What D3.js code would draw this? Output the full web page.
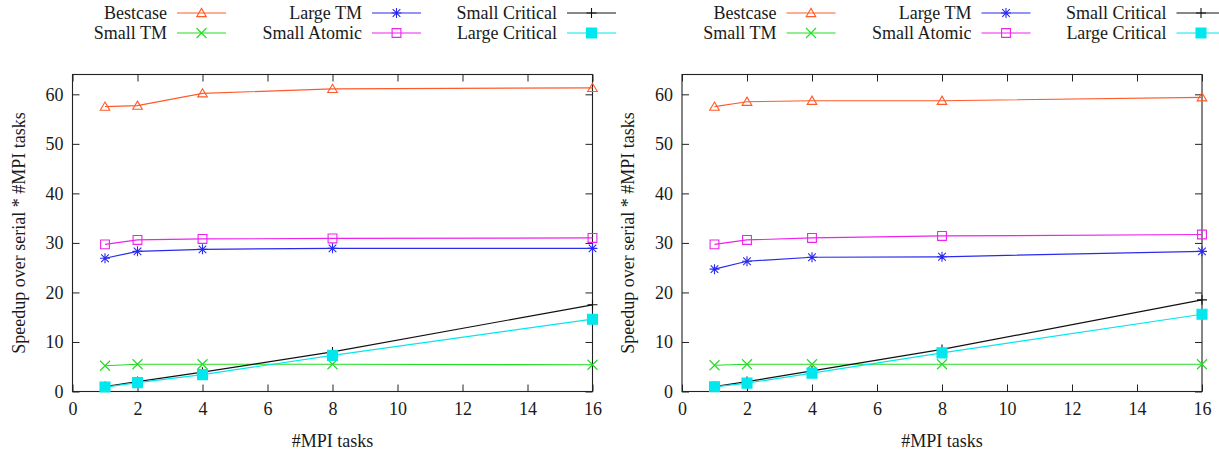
<!DOCTYPE html>
<html>
<head>
<meta charset="utf-8">
<script src="https://cdn.jsdelivr.net/npm/d3@7"></script>
<style>
  html, body { margin: 0; padding: 0; background: #fff; }
  svg { display: block; }
</style>
</head>
<body>
<svg id="chart" width="1219" height="457"></svg>
<script>
// MPI task counts on the x axis
const mpiTasks = [1, 2, 4, 8, 16];
const xTicks = [0, 2, 4, 6, 8, 10, 12, 14, 16];
const yTicks = [0, 10, 20, 30, 40, 50, 60];
const xTitle = "#MPI tasks";
const yTitle = "Speedup over serial * #MPI tasks";

// series, in plotting order
const seriesNames = ["Bestcase", "Small TM", "Large TM", "Small Atomic", "Small Critical", "Large Critical"];

// first run
const bestcaseA      = [57.5, 57.7, 60.2, 61.1, 61.3];
const smallTmA       = [5.2, 5.5, 5.5, 5.5, 5.4];
const largeTmA       = [26.9, 28.3, 28.7, 28.9, 28.9];
const smallAtomicA   = [29.7, 30.6, 30.8, 30.9, 31.0];
const smallCriticalA = [1.0, 2.0, 3.9, 8.0, 17.5];
const largeCriticalA = [0.9, 1.8, 3.4, 7.3, 14.6];

// second run
const bestcaseB      = [57.5, 58.5, 58.7, 58.7, 59.4];
const smallTmB       = [5.3, 5.5, 5.5, 5.5, 5.5];
const largeTmB       = [24.7, 26.3, 27.1, 27.2, 28.3];
const smallAtomicB   = [29.7, 30.6, 31.0, 31.4, 31.7];
const smallCriticalB = [1.0, 2.0, 4.15, 8.5, 18.5];
const largeCriticalB = [0.95, 1.7, 3.7, 7.8, 15.6];

const panelSeries = [
  [bestcaseA, smallTmA, largeTmA, smallAtomicA, smallCriticalA, largeCriticalA],
  [bestcaseB, smallTmB, largeTmB, smallAtomicB, smallCriticalB, largeCriticalB]
];

// styling per series
const colors = ["#ff5a2a", "#22dd22", "#2a2aee", "#ee22ee", "#111111", "#00e8ee"];
const marker = {
  triangle: "M0,-4.6L4.8,3.6L-4.8,3.6Z",
  cross: "M-5,-5L5,5M-5,5L5,-5",
  asterisk: "M-5,0H5M0,-5V5M-3.8,-3.8L3.8,3.8M-3.8,3.8L3.8,-3.8",
  square: "M-4.4,-4.4H4.4V4.4H-4.4Z",
  plus: "M-5,0H5M0,-5V5",
  fsquare: "M-5,-5H5V5H-5Z"
};
const markers = ["triangle", "cross", "asterisk", "square", "plus", "fsquare"];
const filled = [false, false, false, false, false, true];

const FONT = "'Liberation Serif', 'Times New Roman', serif";
const FS = 18;
const TEXT = "#1a1a1a";
const svg = d3.select("#chart");
const panelLefts = [72.5, 682];
const plotW = 520, plotTop = 74.5, plotBottom = 391.5;

function drawMarker(g, type, x, y, color, isFilled) {
  g.append("path")
    .attr("d", marker[type])
    .attr("transform", `translate(${x},${y})`)
    .attr("fill", isFilled ? color : "none")
    .attr("stroke", color)
    .attr("stroke-width", 1.1);
}

function label(g) {
  return g.append("text")
    .style("font-family", FONT)
    .attr("font-size", FS)
    .attr("fill", TEXT);
}

panelLefts.forEach((left, p) => {
  const x = d3.scaleLinear().domain([0, 16]).range([left, left + plotW]);
  const y = d3.scaleLinear().domain([0, 64]).range([plotBottom, plotTop]);
  const g = svg.append("g");

  // axes with inward ticks, mirrored on top and right
  const tick = 7;
  g.append("g").attr("transform", `translate(0,${plotBottom})`)
    .call(d3.axisBottom(x).tickValues(xTicks).tickSize(-tick).tickPadding(11).tickFormat(d3.format("d")));
  g.append("g").attr("transform", `translate(0,${plotTop})`)
    .call(d3.axisTop(x).tickValues(xTicks).tickSize(-tick).tickFormat(""));
  g.append("g").attr("transform", `translate(${left},0)`)
    .call(d3.axisLeft(y).tickValues(yTicks).tickSize(-tick).tickPadding(9).tickFormat(d3.format("d")));
  g.append("g").attr("transform", `translate(${left + plotW},0)`)
    .call(d3.axisRight(y).tickValues(yTicks).tickSize(-tick).tickFormat(""));
  g.selectAll(".domain").remove();
  g.selectAll(".tick line").attr("stroke", "#222").attr("stroke-width", 1);
  g.selectAll(".tick text")
    .style("font-family", FONT)
    .attr("font-size", FS)
    .attr("fill", TEXT);

  // border
  g.append("rect")
    .attr("x", left).attr("y", plotTop)
    .attr("width", plotW).attr("height", plotBottom - plotTop)
    .attr("fill", "none").attr("stroke", "#222").attr("stroke-width", 1.1);

  // axis titles
  label(g)
    .attr("x", left + plotW / 2).attr("y", 447)
    .attr("text-anchor", "middle")
    .text(xTitle);
  label(g)
    .attr("transform", `translate(${left - 48},${(plotTop + plotBottom) / 2}) rotate(-90)`)
    .attr("text-anchor", "middle")
    .text(yTitle);

  // series lines and points
  const line = d3.line().x((d, i) => x(mpiTasks[i])).y(d => y(d));
  panelSeries[p].forEach((vals, s) => {
    g.append("path")
      .datum(vals)
      .attr("d", line)
      .attr("fill", "none")
      .attr("stroke", colors[s])
      .attr("stroke-width", 1.2);
    vals.forEach((v, i) => drawMarker(g, markers[s], x(mpiTasks[i]), y(v), colors[s], filled[s]));
  });

  // legend: three columns of two rows
  const shift = left - 72.5;
  seriesNames.forEach((name, s) => {
    const col = Math.floor(s / 2), row = s % 2;
    const tx = shift + 167 + col * 195;
    const ty = 13 + row * 20;
    label(g)
      .attr("x", tx).attr("y", ty).attr("dy", "0.35em")
      .attr("text-anchor", "end")
      .text(name);
    g.append("line")
      .attr("x1", tx + 10).attr("x2", tx + 59)
      .attr("y1", ty).attr("y2", ty)
      .attr("stroke", colors[s]).attr("stroke-width", 1.2);
    drawMarker(g, markers[s], tx + 34.5, ty, colors[s], filled[s]);
  });
});
</script>
</body>
</html>
